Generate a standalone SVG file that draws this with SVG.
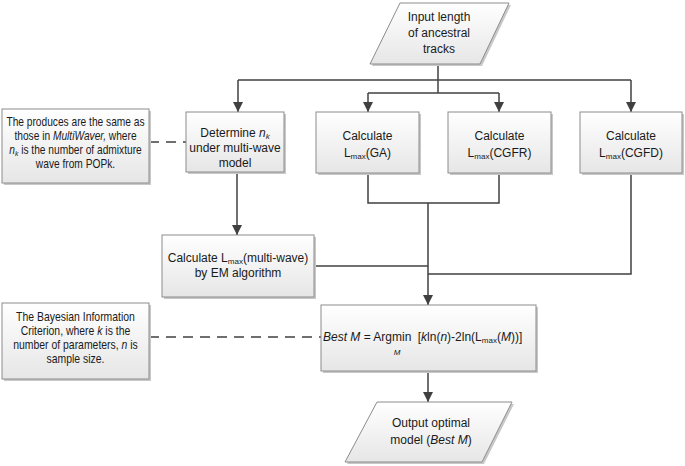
<svg xmlns="http://www.w3.org/2000/svg" width="685" height="466" viewBox="0 0 685 466">
<defs>
<linearGradient id="g" x1="0" y1="0" x2="0" y2="1">
<stop offset="0" stop-color="#ffffff"/>
<stop offset="1" stop-color="#e6e6e6"/>
</linearGradient>
<marker id="arr" markerUnits="userSpaceOnUse" markerWidth="10" markerHeight="10" refX="10" refY="5" orient="auto">
<path d="M0,0 L10,5 L0,10 z" fill="#404040"/>
</marker>
</defs>
<style>
.box{fill:url(#g);stroke:#8c8c8c;stroke-width:1}
.sh{fill:#c8c8c8;stroke:none}
.t{font-family:"Liberation Sans",Arial,sans-serif;font-size:12px;fill:#1a1a1a;text-anchor:middle}
.s{font-size:8px}
.c{fill:none;stroke:#404040;stroke-width:1.5}
.d{fill:none;stroke:#404040;stroke-width:1.5;stroke-dasharray:10 7}
</style>

<g id="connectors">
<path class="c" d="M438,64 V93"/>
<path class="c" d="M238,80 H631"/>
<path class="c" d="M238,80 V112" marker-end="url(#arr)"/>
<path class="c" d="M631,80 V112" marker-end="url(#arr)"/>
<path class="c" d="M368,93 H499"/>
<path class="c" d="M368,93 V112" marker-end="url(#arr)"/>
<path class="c" d="M499,93 V112" marker-end="url(#arr)"/>
<path class="c" d="M237,172 V235" marker-end="url(#arr)"/>
<path class="c" d="M368,173 V203 H499 V173"/>
<path class="c" d="M428,203 V305" marker-end="url(#arr)"/>
<path class="c" d="M314,266 H428"/>
<path class="c" d="M631,173 V274 H428"/>
<path class="c" d="M428,371 V402" marker-end="url(#arr)"/>
<path class="d" d="M149,142 H186"/>
<path class="d" d="M149,337 H321"/>
</g>

<g id="input">
<polygon class="sh" points="402,5 511,5 482,66 372,66"/>
<polygon class="box" points="400,3 509,3 480,64 370,64"/>
<text class="t" x="439" y="21">Input length</text>
<text class="t" x="439" y="37">of ancestral</text>
<text class="t" x="439" y="53">tracks</text>
</g>

<g id="note1">
<rect class="sh" x="4" y="111" width="147" height="74"/>
<rect class="box" x="2" y="109" width="147" height="74"/>
<g transform="translate(75.5,0) scale(0.85,1)">
<text class="t" x="0" y="126">The produces are the same as</text>
<text class="t" x="0" y="140">those in <tspan font-style="italic">MultiWaver,</tspan> where</text>
<text class="t" x="0" y="154"><tspan font-style="italic">n</tspan><tspan class="s" font-style="italic" dy="2">k</tspan><tspan dy="-2"> is the number of admixture</tspan></text>
<text class="t" x="0" y="168">wave from POPk.</text>
</g>
</g>

<g id="determine">
<rect class="sh" x="188" y="114" width="98" height="60"/>
<rect class="box" x="186" y="112" width="98" height="60"/>
<text class="t" x="235" y="137">Determine <tspan font-style="italic">n</tspan><tspan class="s" font-style="italic" dy="2">k</tspan></text>
<text class="t" x="235" y="152">under multi-wave</text>
<text class="t" x="235" y="167">model</text>
</g>

<g id="ga">
<rect class="sh" x="318" y="114" width="103" height="61"/>
<rect class="box" x="316" y="112" width="103" height="61"/>
<text class="t" x="367.5" y="140">Calculate</text>
<text class="t" x="367.5" y="157">L<tspan class="s" dy="2">max</tspan><tspan dy="-2">(GA)</tspan></text>
</g>

<g id="cgfr">
<rect class="sh" x="450" y="114" width="103" height="61"/>
<rect class="box" x="448" y="112" width="103" height="61"/>
<text class="t" x="499.5" y="140">Calculate</text>
<text class="t" x="499.5" y="157">L<tspan class="s" dy="2">max</tspan><tspan dy="-2">(CGFR)</tspan></text>
</g>

<g id="cgfd">
<rect class="sh" x="582" y="114" width="102" height="61"/>
<rect class="box" x="580" y="112" width="102" height="61"/>
<text class="t" x="631" y="140">Calculate</text>
<text class="t" x="631" y="157">L<tspan class="s" dy="2">max</tspan><tspan dy="-2">(CGFD)</tspan></text>
</g>

<g id="multiwave">
<rect class="sh" x="164" y="237" width="152" height="62"/>
<rect class="box" x="162" y="235" width="152" height="62"/>
<text class="t" x="238" y="262">Calculate L<tspan class="s" dy="2">max</tspan><tspan dy="-2">(multi-wave)</tspan></text>
<text class="t" x="238" y="277">by EM algorithm</text>
</g>

<g id="note2">
<rect class="sh" x="4" y="305" width="147" height="76"/>
<rect class="box" x="2" y="303" width="147" height="76"/>
<g transform="translate(75.5,0) scale(0.87,1)">
<text class="t" x="0" y="321">The Bayesian Information</text>
<text class="t" x="0" y="335">Criterion, where <tspan font-style="italic">k</tspan> is the</text>
<text class="t" x="0" y="349">number of parameters, <tspan font-style="italic">n</tspan> is</text>
<text class="t" x="0" y="363">sample size.</text>
</g>
</g>

<g id="bic">
<rect class="sh" x="323" y="307" width="215" height="66"/>
<rect class="box" x="321" y="305" width="215" height="66"/>
<text class="t" x="323" y="341" style="text-anchor:start"><tspan font-style="italic">Best M</tspan> = Argmin <tspan dx="3">[</tspan><tspan font-style="italic">k</tspan>ln(<tspan font-style="italic">n</tspan>)-2ln(L<tspan class="s" dy="2">max</tspan><tspan dy="-2">(</tspan><tspan font-style="italic">M</tspan>))]</text>
<text class="t s" x="397" y="355" font-style="italic">M</text>
</g>

<g id="output">
<polygon class="sh" points="379,404 514,404 484,464 347,464"/>
<polygon class="box" points="377,402 512,402 482,462 345,462"/>
<text class="t" x="431" y="427">Output optimal</text>
<text class="t" x="431" y="444">model (<tspan font-style="italic">Best M</tspan>)</text>
</g>
</svg>
